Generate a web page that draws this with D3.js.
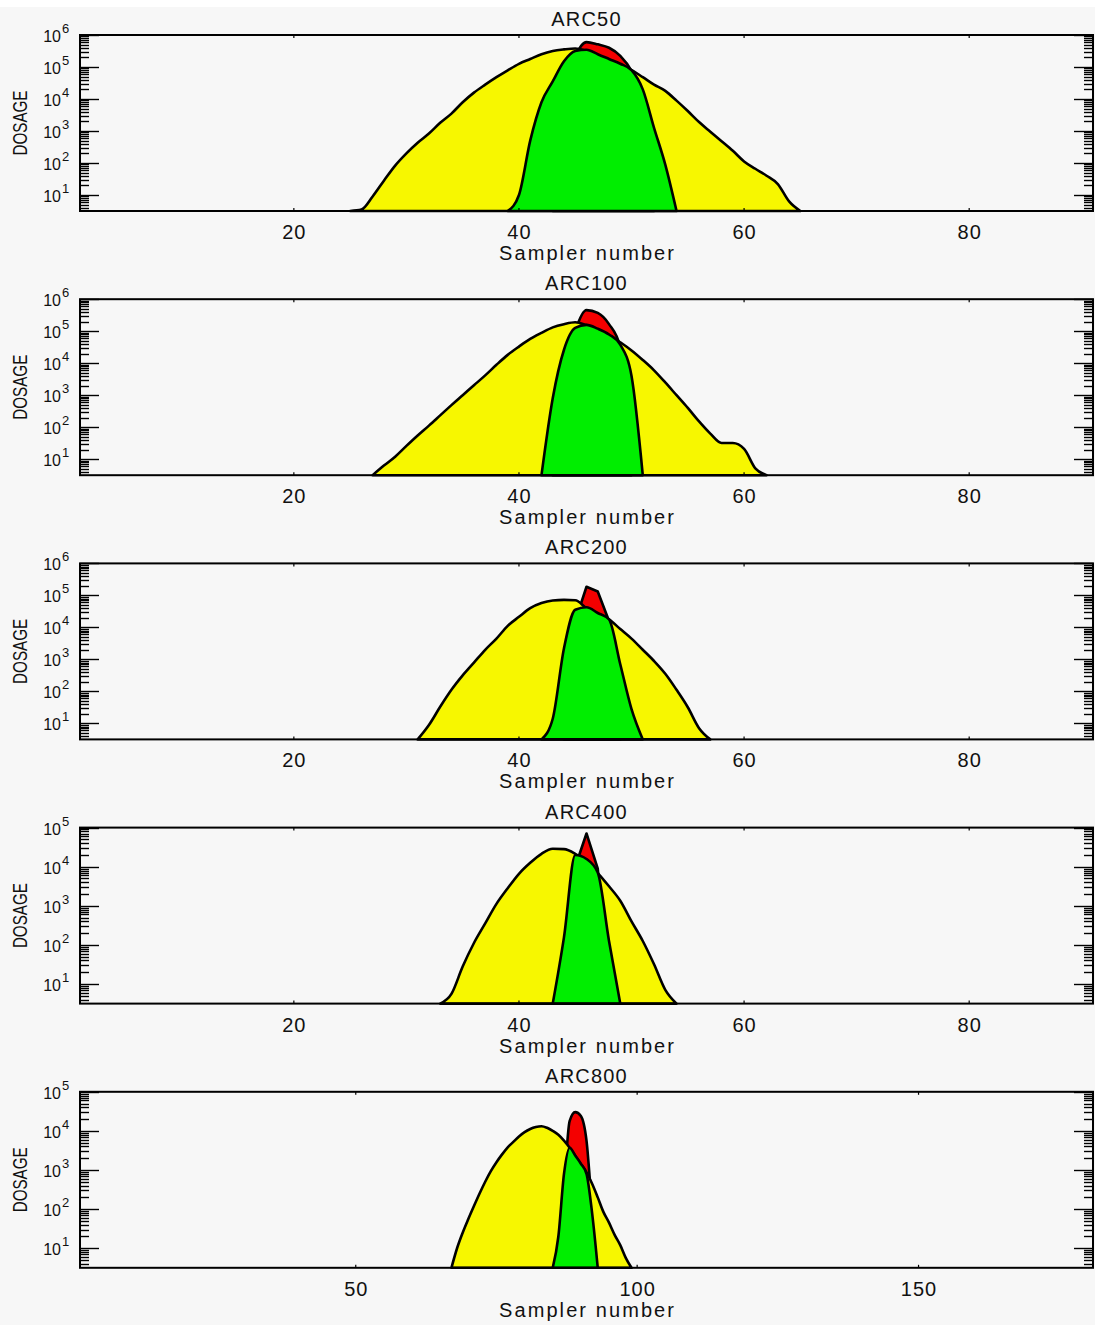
<!DOCTYPE html>
<html><head><meta charset="utf-8">
<script src="https://cdn.jsdelivr.net/npm/d3@7"></script>
<style>body{margin:0;background:#fff;} svg{display:block;}</style>
</head><body>
<svg id="chart" width="1095" height="1325"></svg>
<script>
// ---------- data ----------
const panelTitles = ["ARC50", "ARC100", "ARC200", "ARC400", "ARC800"];
const samplerMax = [91, 91, 91, 91, 181];
const dosageMaxExp = [6, 6, 6, 5, 5];
const xTickValues = [[20, 40, 60, 80], [20, 40, 60, 80], [20, 40, 60, 80], [20, 40, 60, 80], [50, 100, 150]];
const xLabel = "Sampler number";
const yLabel = "DOSAGE";

// first sampler number of each series, per panel
const yellowStart = [25, 27, 31, 33, 67];
const greenStart  = [39, 42, 42, 43, 85];
const redStart    = [43, 43, 44, 44, 86];

const arc50Yellow = [3, 3.5, 9, 28, 83, 200, 430, 830, 1800, 3500, 7900, 15800, 28000, 48000, 79000, 126000, 178000, 251000, 316000, 355000, 380000, 316000, 224000, 151000, 107000, 79400, 48000, 28000, 18000, 8900, 4200, 1900, 950, 480, 240, 112, 66, 40, 22, 6.3, 3];
const arc50Green  = [3, 10, 500, 7900, 35500, 151000, 316000, 347000, 251000, 178000, 126000, 79400, 20000, 1260, 89, 3];
const arc50Red    = [3, 10000, 200000, 600000, 510000, 400000, 224000, 76000, 10000, 3];

const arc100Yellow = [3, 6.3, 12, 26, 55, 112, 234, 490, 1000, 2040, 4170, 8900, 18200, 33100, 57500, 89000, 132000, 166000, 190000, 155000, 112000, 76000, 45000, 25000, 12600, 6000, 2500, 1000, 400, 151, 63, 32, 32, 21, 5.2, 3];
const arc100Green  = [3, 800, 26300, 126000, 158000, 120000, 79000, 38000, 4000, 3];
const arc100Red    = [3, 3200, 100000, 457000, 372000, 166000, 31600, 3];

const arc200Yellow = [3, 8.9, 33, 112, 316, 794, 2000, 4470, 11200, 21400, 39800, 57500, 69200, 72400, 70800, 39800, 26300, 17800, 8900, 4470, 2000, 891, 355, 112, 32, 7.1, 3];
const arc200Green  = [3, 14, 2240, 35500, 42700, 28200, 17800, 708, 28, 3];
const arc200Red    = [3, 15800, 186000, 132000, 15800, 3];

const arc400Yellow = [3, 5.6, 28, 112, 355, 1120, 2820, 6600, 12600, 21400, 28800, 28200, 21400, 13200, 6900, 3160, 1350, 400, 126, 32, 7.1, 3];
const arc400Green  = [3, 158, 20000, 15800, 7080, 126, 3];
const arc400Red    = [3, 10000, 70800, 8900, 3];

const arc800Yellow = [3, 10, 25, 56, 120, 251, 501, 933, 1580, 2510, 3800, 5250, 7240, 9330, 11200, 12600, 13200, 12000, 10000, 7940, 5620, 3720, 2290, 1410, 870, 447, 200, 85, 45, 22, 12, 5.6, 3];
const arc800Green  = [3, 20, 794, 3720, 2340, 1450, 800, 79, 3];
const arc800Red    = [3, 316, 17800, 30200, 24000, 5620, 100, 3];

const yellowSeries = [arc50Yellow, arc100Yellow, arc200Yellow, arc400Yellow, arc800Yellow];
const greenSeries  = [arc50Green, arc100Green, arc200Green, arc400Green, arc800Green];
const redSeries    = [arc50Red, arc100Red, arc200Red, arc400Red, arc800Red];

// ---------- layout ----------
const W = 1095, H = 1325;
const plotLeft = 80, plotRight = 1093, firstTop = 35, panelStep = 264.2, plotHeight = 176;
const FONT = "'Liberation Sans', Arial, sans-serif";
const colors = {yellow: "#f7f700", green: "#00ee00", red: "#f40000", bg: "#f7f7f7"};

const svg = d3.select("#chart");
svg.append("rect").attr("width", W).attr("height", H).attr("fill", "#fff");
svg.append("rect").attr("y", 7).attr("width", W).attr("height", H - 7).attr("fill", colors.bg);

panelTitles.forEach((title, i) => {
  const top = firstTop + i * panelStep;
  const bottom = top + plotHeight;
  const g = svg.append("g");

  const x = d3.scaleLinear().domain([1, samplerMax[i]]).range([plotLeft, plotRight]);
  const y = d3.scaleLog().domain([Math.sqrt(10), Math.pow(10, dosageMaxExp[i])]).range([bottom, top]).clamp(true);

  const makeArea = curve => d3.area().curve(curve).x(d => x(d.s)).y0(bottom).y1(d => y(d.v));
  const toPts = (vals, start) => vals.map((v, k) => ({s: start + k, v}));
  const redCurve = (i === 2 || i === 3) ? d3.curveLinear : d3.curveMonotoneX;

  const layers = [
    {vals: redSeries[i], start: redStart[i], fill: colors.red, curve: redCurve},
    {vals: yellowSeries[i], start: yellowStart[i], fill: colors.yellow, curve: d3.curveMonotoneX},
    {vals: greenSeries[i], start: greenStart[i], fill: colors.green, curve: d3.curveMonotoneX}
  ];
  layers.forEach(L => {
    g.append("path").datum(toPts(L.vals, L.start))
      .attr("d", makeArea(L.curve)).attr("fill", L.fill)
      .attr("stroke", "#000").attr("stroke-width", 2.6).attr("stroke-linejoin", "round");
  });

  // frame
  g.append("rect").attr("x", plotLeft).attr("y", top)
    .attr("width", plotRight - plotLeft).attr("height", plotHeight)
    .attr("fill", "none").attr("stroke", "#000").attr("stroke-width", 2);

  // y ticks (log)
  const yt = y.ticks();
  yt.forEach(t => {
    const lg = Math.log10(t);
    const major = Math.abs(lg - Math.round(lg)) < 1e-9;
    const len = major ? 19 : 9;
    const yy = Math.round(y(t)) + 0.5;
    g.append("line").attr("x1", plotLeft).attr("x2", plotLeft + len).attr("y1", yy).attr("y2", yy)
      .attr("stroke", "#000").attr("stroke-width", 1.4);
    g.append("line").attr("x1", plotRight).attr("x2", plotRight - len).attr("y1", yy).attr("y2", yy)
      .attr("stroke", "#000").attr("stroke-width", 1.4);
    if (major) {
      g.append("text").attr("x", 61).attr("y", y(t) + 7).attr("text-anchor", "end")
        .attr("font-family", FONT).attr("font-size", 16).attr("fill", "#111").text("10");
      g.append("text").attr("x", 62).attr("y", y(t) - 2).attr("text-anchor", "start")
        .attr("font-family", FONT).attr("font-size", 13).attr("fill", "#111").text(String(Math.round(lg)));
    }
  });

  // x ticks
  xTickValues[i].forEach(t => {
    const xx = x(t);
    g.append("line").attr("x1", xx).attr("x2", xx).attr("y1", top).attr("y2", top + 3).attr("stroke", "#000").attr("stroke-width", 1.2);
    g.append("line").attr("x1", xx).attr("x2", xx).attr("y1", bottom).attr("y2", bottom - 3).attr("stroke", "#000").attr("stroke-width", 1.2);
    g.append("text").attr("x", xx + 0.5).attr("y", bottom + 28).attr("text-anchor", "middle")
      .attr("font-family", FONT).attr("font-size", 20).attr("letter-spacing", 1).attr("fill", "#111").text(t);
  });

  // title
  g.append("text").attr("x", (plotLeft + plotRight) / 2).attr("y", top - 9).attr("text-anchor", "middle")
    .attr("font-family", FONT).attr("font-size", 20).attr("letter-spacing", 1.2).attr("fill", "#111").text(title);

  // x label
  g.append("text").attr("x", (plotLeft + plotRight) / 2).attr("y", bottom + 49).attr("text-anchor", "middle")
    .attr("font-family", FONT).attr("font-size", 20).attr("textLength", 175).attr("lengthAdjust", "spacing")
    .attr("fill", "#111").text(xLabel);

  // y label
  g.append("text").attr("transform", `translate(27,${(top + bottom) / 2}) rotate(-90)`)
    .attr("text-anchor", "middle").attr("font-family", FONT).attr("font-size", 20)
    .attr("textLength", 65).attr("lengthAdjust", "spacingAndGlyphs").attr("fill", "#111").text(yLabel);
});
</script>
</body></html>
